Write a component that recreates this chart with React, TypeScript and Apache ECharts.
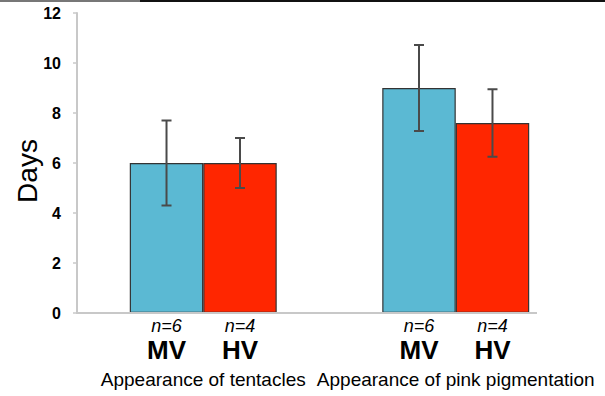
import React, { useEffect, useRef } from "react";
import * as echarts from "echarts";

const categories = ["Appearance of tentacles", "Appearance of pink pigmentation"];
const groupNames = ["MV", "HV"];
const mvSampleSizes = ["n=6", "n=6"];
const hvSampleSizes = ["n=4", "n=4"];
const mvMeans = [6.0, 9.0];
const mvErrors = [1.7, 1.72];
const hvMeans = [6.0, 7.6];
const hvErrors = [1.0, 1.35];
const yMin = 0;
const yMax = 12;
const yInterval = 2;
const yAxisName = "Days";

const FONT = "'Liberation Sans', Arial, Helvetica, sans-serif";
const BAR_FRAC = 0.291;

function errorSeries(name: string, means: number[], errs: number[], side: number) {
  return {
    type: "custom",
    name: name + " error",
    z: 10,
    silent: true,
    data: means.map((m, i) => [i, m - errs[i], m + errs[i]]),
    encode: { x: 0, y: [1, 2] },
    renderItem: (params: any, api: any) => {
      const idx = api.value(0);
      const lo = api.coord([idx, api.value(1)]);
      const hi = api.coord([idx, api.value(2)]);
      const band = api.size([1, 0])[0];
      const x = lo[0] + (side * band * BAR_FRAC) / 2;
      const cap = 5;
      const style = { stroke: "#4a4a4a", lineWidth: 2 };
      return {
        type: "group",
        children: [
          { type: "line", shape: { x1: x, y1: hi[1], x2: x, y2: lo[1] }, style },
          { type: "line", shape: { x1: x - cap, y1: hi[1], x2: x + cap, y2: hi[1] }, style },
          { type: "line", shape: { x1: x - cap, y1: lo[1], x2: x + cap, y2: lo[1] }, style },
        ],
      };
    },
  };
}

function barSeries(name: string, means: number[], ns: string[], color: string) {
  return {
    type: "bar",
    name,
    data: means,
    barWidth: BAR_FRAC * 100 + "%",
    barGap: "0%",
    itemStyle: { color, borderColor: "#333333", borderWidth: 1.2 },
    label: {
      show: true,
      position: ["50%", "100%"],
      align: "center",
      verticalAlign: "top",
      offset: [0, 3],
      formatter: (p: any) => `{n|${ns[p.dataIndex]}}\n{g|${name}}`,
      rich: {
        n: { fontFamily: FONT, fontStyle: "italic", fontSize: 18, lineHeight: 20, color: "#000" },
        g: { fontFamily: FONT, fontWeight: "bold", fontSize: 26, lineHeight: 28, color: "#000" },
      },
    },
  };
}

export default function App() {
  const ref = useRef<HTMLDivElement>(null);
  useEffect(() => {
    if (!ref.current) return;
    const chart = echarts.init(ref.current, undefined, { renderer: "svg" });
    chart.setOption({
      animation: false,
      backgroundColor: "#ffffff",
      textStyle: { fontFamily: FONT },
      grid: { left: 77, right: 23, top: 13, bottom: 83 },
      xAxis: {
        type: "category",
        data: categories,
        axisLine: { show: false },
        axisTick: { show: false },
        axisLabel: {
          margin: 56,
          fontFamily: FONT,
          fontSize: 19,
          lineHeight: 20,
          color: "#000",
          interval: 0,
        },
      },
      yAxis: {
        type: "value",
        min: yMin,
        max: yMax,
        interval: yInterval,
        name: yAxisName,
        nameLocation: "middle",
        nameGap: 36,
        nameMoveOverlap: false,
        nameTextStyle: { fontFamily: FONT, fontSize: 28, color: "#000", padding: [0, 0, 0, -16] },
        axisLine: { show: true, lineStyle: { color: "#c8c8c8", width: 2 } },
        axisTick: { show: true, length: 4, lineStyle: { color: "#c8c8c8", width: 1.5 } },
        splitLine: { show: false },
        axisLabel: { margin: 16, fontFamily: FONT, fontWeight: "bold", fontSize: 16, color: "#000" },
      },
      graphic: [
        { type: "rect", shape: { x: 0, y: 0, width: 605, height: 2 }, style: { fill: "#111" }, z: 100 },
        { type: "rect", shape: { x: 0, y: 0, width: 140, height: 2 }, style: { fill: "#777" }, z: 101 },
        {
          type: "line",
          shape: { x1: 76, y1: 313, x2: 537, y2: 313 },
          style: { stroke: "#c8c8c8", lineWidth: 2 },
          z: 50,
        },
      ],
      series: [
        barSeries(groupNames[0], mvMeans, mvSampleSizes, "#5bb9d3"),
        barSeries(groupNames[1], hvMeans, hvSampleSizes, "#ff2600"),
        errorSeries(groupNames[0], mvMeans, mvErrors, -1),
        errorSeries(groupNames[1], hvMeans, hvErrors, 1),
      ],
    });
    return () => chart.dispose();
  }, []);
  return (
    <div
      ref={ref}
      style={{ position: "fixed", left: 0, top: 0, width: 605, height: 396, background: "#fff" }}
    />
  );
}
